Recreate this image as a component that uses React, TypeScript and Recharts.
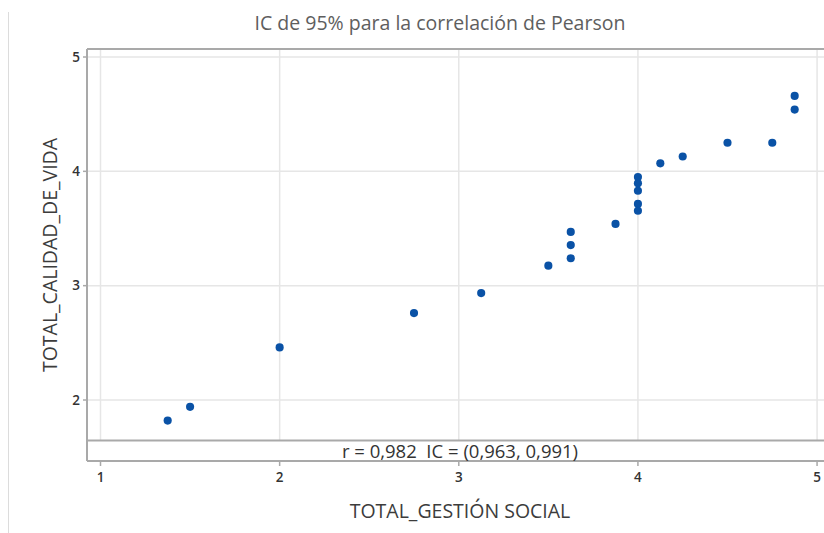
import React from "react";
import {
  ScatterChart,
  Scatter,
  XAxis,
  YAxis,
  ZAxis,
  CartesianGrid,
  ReferenceArea,
  ReferenceLine,
} from "recharts";

const gestionSocial = [
  1.375, 1.5, 2.0, 2.75, 3.125, 3.5, 3.625, 3.625, 3.625, 3.875, 4.0, 4.0, 4.0,
  4.0, 4.0, 4.125, 4.25, 4.5, 4.75, 4.875, 4.875,
];
const calidadVida = [
  1.82, 1.94, 2.46, 2.76, 2.935, 3.175, 3.24, 3.355, 3.47, 3.54, 3.655, 3.715,
  3.83, 3.895, 3.95, 4.07, 4.13, 4.25, 4.25, 4.54, 4.66,
];
const xTicks = [1, 2, 3, 4, 5];
const yTicks = [2, 3, 4, 5];
const titleText = "IC de 95% para la correlación de Pearson";
const xLabel = "TOTAL_GESTIÓN SOCIAL";
const yLabel = "TOTAL_CALIDAD_DE_VIDA";
const annotation = "r = 0,982  IC = (0,963, 0,991)";

const data = gestionSocial.map((x, i) => ({ x, y: calidadVida[i] }));

const X_MIN = 0.9246;
const X_MAX = 5.075;
const Y_MIN = 1.4665;
const Y_SEP = 1.646;
const Y_MAX = 5.07;

const FRAME = "#a9a9a9";
const FONT = "'Open Sans', 'Noto Sans', sans-serif";

export default function App() {
  return (
    <div
      style={{
        position: "absolute",
        left: 0,
        top: 0,
        width: 824,
        height: 533,
        overflow: "hidden",
        background: "#ffffff",
        fontFamily: FONT,
      }}
    >
      <div
        style={{
          position: "absolute",
          left: 8,
          top: 12,
          width: 1,
          height: 521,
          background: "#dcdcdc",
        }}
      />
      <div
        style={{
          position: "absolute",
          left: 140,
          width: 600,
          top: 9,
          textAlign: "center",
          fontSize: 19.5,
          color: "#5e5e5e",
          lineHeight: "28px",
          whiteSpace: "pre",
        }}
      >
        {titleText}
      </div>
      <ScatterChart
        width={832}
        height={533}
        margin={{ top: 49, right: 1.5, bottom: 42, left: 47 }}
      >
        <CartesianGrid stroke="#e6e6e6" strokeWidth={1.5} />
        <XAxis
          type="number"
          dataKey="x"
          domain={[X_MIN, X_MAX]}
          ticks={xTicks}
          allowDataOverflow
          height={30}
          axisLine={{ stroke: FRAME, strokeWidth: 2 }}
          tickLine={{ stroke: FRAME, strokeWidth: 1.5 }}
          tickSize={5}
          tickMargin={6}
          tick={{ fill: "#333333", fontSize: 13.5, fontWeight: 600, fontFamily: FONT }}
        />
        <YAxis
          type="number"
          dataKey="y"
          domain={[Y_MIN, Y_MAX]}
          ticks={yTicks}
          allowDataOverflow
          width={40}
          axisLine={{ stroke: FRAME, strokeWidth: 2 }}
          tickLine={{ stroke: FRAME, strokeWidth: 1.5 }}
          tickSize={4}
          tickMargin={3}
          tick={{ fill: "#333333", fontSize: 13.5, fontWeight: 600, fontFamily: FONT }}
        />
        <ZAxis range={[52, 52]} />
        <ReferenceArea
          x1={X_MIN}
          x2={X_MAX}
          y1={Y_MIN}
          y2={Y_SEP}
          fill="#ffffff"
          fillOpacity={1}
          stroke="none"
          ifOverflow="extendDomain"
        />
        <ReferenceLine y={Y_SEP} stroke={FRAME} strokeWidth={2} />
        <ReferenceLine y={Y_MAX} stroke={FRAME} strokeWidth={2} />
        <ReferenceLine x={X_MAX} stroke={FRAME} strokeWidth={2} />
        <Scatter
          data={data}
          fill="#0a52a6"
          shape="circle"
          isAnimationActive={false}
        />
      </ScatterChart>
      <div
        style={{
          position: "absolute",
          left: 210,
          width: 500,
          top: 440,
          textAlign: "center",
          fontSize: 18.5,
          color: "#333333",
          lineHeight: "22px",
          whiteSpace: "pre",
        }}
      >
        {annotation}
      </div>
      <div
        style={{
          position: "absolute",
          left: 210,
          width: 500,
          top: 497,
          textAlign: "center",
          fontSize: 19.5,
          color: "#3c3c3c",
          lineHeight: "28px",
        }}
      >
        {xLabel}
      </div>
      <div
        style={{
          position: "absolute",
          left: 50,
          top: 255,
          width: 300,
          marginLeft: -150,
          marginTop: -14,
          textAlign: "center",
          fontSize: 19.5,
          color: "#3c3c3c",
          lineHeight: "28px",
          transform: "rotate(-90deg)",
        }}
      >
        {yLabel}
      </div>
    </div>
  );
}
